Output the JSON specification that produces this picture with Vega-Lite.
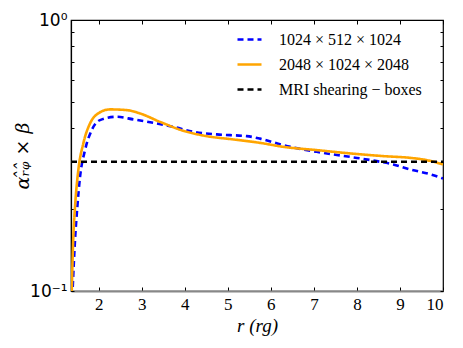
{
  "$schema": "https://vega.github.io/schema/vega-lite/v6.json",
  "width": 372,
  "height": 271,
  "autosize": "none",
  "padding": {"left": 71, "top": 20, "right": 20, "bottom": 57},
  "background": "white",
  "config": {
    "font": "Liberation Serif",
    "view": {"stroke": "black", "strokeWidth": 1.2},
    "axis": {"grid": false},
    "style": {"guide-label": {"font": "Liberation Serif"}, "guide-title": {"font": "Liberation Serif"}}
  },
  "data": {
    "values": [
      {"r": 1.396, "v": 0.1035, "s": "1024 × 512 × 1024"},
      {"r": 1.449, "v": 0.1539, "s": "1024 × 512 × 1024"},
      {"r": 1.503, "v": 0.2043, "s": "1024 × 512 × 1024"},
      {"r": 1.566, "v": 0.2637, "s": "1024 × 512 × 1024"},
      {"r": 1.682, "v": 0.3311, "s": "1024 × 512 × 1024"},
      {"r": 1.837, "v": 0.3923, "s": "1024 × 512 × 1024"},
      {"r": 2.03, "v": 0.4272, "s": "1024 × 512 × 1024"},
      {"r": 2.418, "v": 0.4394, "s": "1024 × 512 × 1024"},
      {"r": 2.804, "v": 0.4298, "s": "1024 × 512 × 1024"},
      {"r": 3.269, "v": 0.4173, "s": "1024 × 512 × 1024"},
      {"r": 3.733, "v": 0.4034, "s": "1024 × 512 × 1024"},
      {"r": 4.198, "v": 0.3868, "s": "1024 × 512 × 1024"},
      {"r": 4.742, "v": 0.3783, "s": "1024 × 512 × 1024"},
      {"r": 5.439, "v": 0.3728, "s": "1024 × 512 × 1024"},
      {"r": 5.748, "v": 0.3650, "s": "1024 × 512 × 1024"},
      {"r": 6.289, "v": 0.3452, "s": "1024 × 512 × 1024"},
      {"r": 7.065, "v": 0.3263, "s": "1024 × 512 × 1024"},
      {"r": 7.839, "v": 0.3126, "s": "1024 × 512 × 1024"},
      {"r": 8.459, "v": 0.3014, "s": "1024 × 512 × 1024"},
      {"r": 8.845, "v": 0.2931, "s": "1024 × 512 × 1024"},
      {"r": 9.233, "v": 0.2809, "s": "1024 × 512 × 1024"},
      {"r": 9.698, "v": 0.2698, "s": "1024 × 512 × 1024"},
      {"r": 10.0, "v": 0.2601, "s": "1024 × 512 × 1024"},
      {"r": 1.373, "v": 0.1, "s": "2048 × 1024 × 2048"},
      {"r": 1.41, "v": 0.1583, "s": "2048 × 1024 × 2048"},
      {"r": 1.449, "v": 0.2043, "s": "2048 × 1024 × 2048"},
      {"r": 1.526, "v": 0.2792, "s": "2048 × 1024 × 2048"},
      {"r": 1.642, "v": 0.3503, "s": "2048 × 1024 × 2048"},
      {"r": 1.798, "v": 0.4152, "s": "2048 × 1024 × 2048"},
      {"r": 1.954, "v": 0.4483, "s": "2048 × 1024 × 2048"},
      {"r": 2.263, "v": 0.4679, "s": "2048 × 1024 × 2048"},
      {"r": 2.651, "v": 0.465, "s": "2048 × 1024 × 2048"},
      {"r": 2.96, "v": 0.452, "s": "2048 × 1024 × 2048"},
      {"r": 3.424, "v": 0.4209, "s": "2048 × 1024 × 2048"},
      {"r": 3.966, "v": 0.3901, "s": "2048 × 1024 × 2048"},
      {"r": 4.509, "v": 0.3728, "s": "2048 × 1024 × 2048"},
      {"r": 5.127, "v": 0.3625, "s": "2048 × 1024 × 2048"},
      {"r": 5.748, "v": 0.3521, "s": "2048 × 1024 × 2048"},
      {"r": 6.289, "v": 0.3404, "s": "2048 × 1024 × 2048"},
      {"r": 7.065, "v": 0.3311, "s": "2048 × 1024 × 2048"},
      {"r": 7.839, "v": 0.3219, "s": "2048 × 1024 × 2048"},
      {"r": 8.613, "v": 0.3146, "s": "2048 × 1024 × 2048"},
      {"r": 9.233, "v": 0.31, "s": "2048 × 1024 × 2048"},
      {"r": 9.621, "v": 0.304, "s": "2048 × 1024 × 2048"},
      {"r": 10.0, "v": 0.2931, "s": "2048 × 1024 × 2048"},
      {"r": 1.356, "v": 0.3, "s": "MRI shearing − boxes"},
      {"r": 10.0, "v": 0.3, "s": "MRI shearing − boxes"}
    ]
  },
  "layer": [
    {
      "mark": {"type": "line", "strokeWidth": 2.6, "clip": true, "interpolate": "monotone"},
      "encoding": {
        "x": {
          "field": "r", "type": "quantitative",
          "scale": {"domain": [1.356, 10], "nice": false, "zero": false},
          "axis": {
            "orient": "bottom",
            "values": [2, 3, 4, 5, 6, 7, 8, 9, 10],
            "tickSize": -4, "tickColor": "black", "tickWidth": 1,
            "labelPadding": 9, "labelFont": "Liberation Serif", "labelFontSize": 17, "labelColor": "black",
            "domainColor": "#888888", "domainWidth": 2,
            "title": "r (rg)", "titleFont": "Liberation Serif", "titleFontStyle": "italic", "titleFontWeight": "normal",
            "titleFontSize": 19, "titleColor": "black", "titlePadding": 4
          }
        },
        "y": {
          "field": "v", "type": "quantitative",
          "scale": {"type": "log", "domain": [0.1, 1], "nice": false},
          "axis": {
            "orient": "left",
            "values": [0.1, 0.2, 0.3, 0.4, 0.5, 0.6, 0.7, 0.8, 0.9, 1],
            "labelExpr": "datum.value > 0.99 ? '10⁰' : (datum.value < 0.11 ? '10⁻¹' : '')",
            "tickSize": -3, "tickColor": "black", "tickWidth": 1,
            "labelPadding": 7, "labelFont": "DejaVu Sans", "labelFontSize": 17, "labelColor": "black",
            "domainColor": "black", "domainWidth": 1.2,
            "title": "αᵣ̂ᵩ̂ × β", "titleFont": "DejaVu Serif", "titleFontStyle": "italic", "titleFontWeight": "normal",
            "titleFontSize": 19, "titleColor": "black", "titleX": -49, "titleBaseline": "middle"
          }
        },
        "color": {
          "field": "s", "type": "nominal",
          "scale": {
            "domain": ["1024 × 512 × 1024", "2048 × 1024 × 2048", "MRI shearing − boxes"],
            "range": ["#0000ff", "#ffa500", "#000000"]
          },
          "legend": {
            "orient": "none", "legendX": 165, "legendY": 6, "title": null,
            "symbolType": "stroke", "symbolSize": 576, "symbolStrokeWidth": 2.6,
            "labelFont": "Liberation Serif", "labelFontSize": 16, "labelColor": "black",
            "rowPadding": 3, "labelOffset": 16
          }
        },
        "strokeDash": {
          "field": "s", "type": "nominal",
          "scale": {
            "domain": ["1024 × 512 × 1024", "2048 × 1024 × 2048", "MRI shearing − boxes"],
            "range": [[6, 4], [1, 0], [6, 4]]
          },
          "legend": null
        }
      }
    },
    {
      "mark": {"type": "line", "opacity": 0},
      "encoding": {
        "x": {
          "field": "r", "type": "quantitative",
          "axis": {"orient": "top", "values": [2, 3, 4, 5, 6, 7, 8, 9, 10], "labels": false, "tickSize": -4, "tickColor": "black", "domain": false, "title": null}
        },
        "y": {
          "field": "v", "type": "quantitative",
          "axis": {"orient": "right", "values": [0.1, 0.2, 0.3, 0.4, 0.5, 0.6, 0.7, 0.8, 0.9, 1], "labels": false, "tickSize": -3, "tickColor": "black", "domain": false, "title": null}
        }
      }
    }
  ],
  "resolve": {"axis": {"x": "independent", "y": "independent"}}
}
